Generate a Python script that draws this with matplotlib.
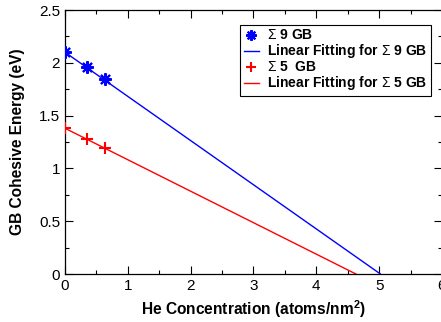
import matplotlib
matplotlib.use("Agg")
import matplotlib.pyplot as plt
import numpy as np
from matplotlib.ticker import MultipleLocator

plt.rcParams["font.family"] = ["Liberation Sans", "DejaVu Sans"]
plt.rcParams["mathtext.fontset"] = "custom"
plt.rcParams["mathtext.rm"] = "Liberation Sans"
plt.rcParams["mathtext.bf"] = "Liberation Sans:bold"

# He concentration (atoms/nm^2) and GB cohesive energy (eV)
conc = [0.0, 0.35, 0.63]
e_sigma9 = [2.10, 1.96, 1.85]
e_sigma5 = [1.38, 1.28, 1.19]

# linear fits: intercept (eV) and zero-energy concentration
fit9_intercept, fit9_zero = 2.10, 5.02
fit5_intercept, fit5_zero = 1.38, 4.63

fig = plt.figure(figsize=(4.41, 3.22), dpi=100)
ax = fig.add_axes([65 / 441, 48 / 322, 377 / 441, 264 / 322])

x9 = np.array([0.0, fit9_zero])
ax.plot(x9, fit9_intercept * (1 - x9 / fit9_zero), color="blue", lw=1.0,
        label=r"Linear Fitting for $\Sigma$ 9 GB", zorder=2)
x5 = np.array([0.0, fit5_zero])
ax.plot(x5, fit5_intercept * (1 - x5 / fit5_zero), color="red", lw=1.0,
        label=r"Linear Fitting for $\Sigma$ 5 GB", zorder=2)
ax.plot(conc, e_sigma9, ls="none", marker=(8, 2, 0), ms=9, mew=1.5,
        color="blue", label=r"$\Sigma$ 9 GB", zorder=3)
ax.plot(conc, e_sigma5, ls="none", marker="+", ms=9, mew=1.5,
        color="red", label=r"$\Sigma$ 5  GB", zorder=3)

handles, labels = ax.get_legend_handles_labels()
order = [2, 0, 3, 1]
leg = ax.legend([handles[i] for i in order], [labels[i] for i in order],
                loc="upper right", bbox_to_anchor=(431 / 441, 1 - 25 / 322),
                bbox_transform=fig.transFigure, borderaxespad=0,
                fancybox=False, edgecolor="black", framealpha=1,
                handlelength=1.1, handletextpad=0.6, borderpad=0.25,
                labelspacing=0.0, markerscale=0.85,
                prop={"weight": "bold", "size": 10})
leg.get_frame().set_linewidth(0.8)

ax.set_xlim(0, 6)
ax.set_ylim(0, 2.5)
ax.xaxis.set_major_locator(MultipleLocator(1))
ax.xaxis.set_minor_locator(MultipleLocator(0.5))
ax.yaxis.set_minor_locator(MultipleLocator(0.25))
ax.set_yticks([0, 0.5, 1, 1.5, 2, 2.5])
ax.set_yticklabels(["0", "0.5", "1", "1.5", "2", "2.5"])
ax.tick_params(which="both", direction="in", top=True, right=True,
               labelsize=11, width=0.8)
ax.tick_params(which="major", length=6)
ax.tick_params(which="minor", length=3)
for s in ax.spines.values():
    s.set_linewidth(0.9)

ax.set_xlabel(r"He Concentration (atoms/nm$\mathbf{^2}$)", fontsize=11.2,
              fontweight="bold", labelpad=4)
ax.set_ylabel("GB Cohesive Energy (eV)", fontsize=11.2, fontweight="bold",
              labelpad=10)

fig.savefig("out.png", dpi=100)
